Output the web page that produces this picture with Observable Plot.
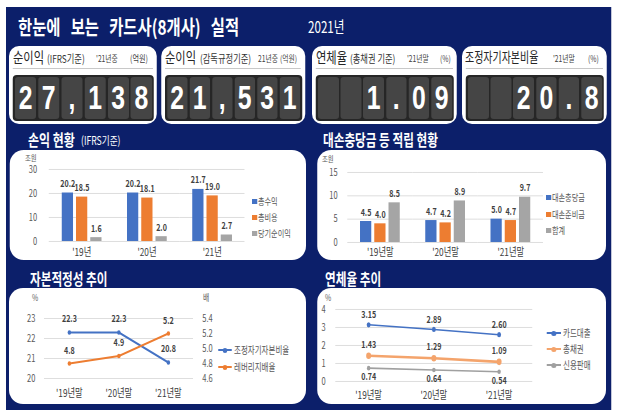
<!DOCTYPE html>
<html><head><meta charset="utf-8">
<script src="https://cdn.jsdelivr.net/npm/d3@7"></script>
<script src="https://cdn.jsdelivr.net/npm/@observablehq/plot@0.6"></script>
<style>
html,body{margin:0;padding:0;background:#fff;overflow:hidden;}
#root{position:relative;height:418px;transform-origin:0 0;font-family:"Noto Sans CJK KR","Noto Sans",sans-serif;}
#root svg{overflow:visible;}
</style></head><body><div id="root"></div>
<script>
// ---------------- data ----------------
const kpiNames   = ["순이익", "순이익", "연체율", "조정자기자본비율"];
const kpiBases   = ["(IFRS기준)", "(감독규정기준)", "(총채권 기준)", ""];
const kpiPeriods = ["'21년중", "21년중", "'21년말", "'21년말"];
const kpiUnits   = ["(억원)", "(억원)", "(%)", "(%)"];
const kpiValues  = ["27,138", "21,531", "1.09", "20.8"];

const years1  = ["'19년", "'20년", "'21년"];
const series1 = ["총수익", "총비용", "당기순이익"];
const revenue   = [20.2, 20.2, 21.7];
const expense   = [18.5, 18.1, 19.0];
const netIncome = [1.6, 2.0, 2.7];
const ticks1 = [0, 10, 20, 30];

const years2  = ["'19년말", "'20년말", "'21년말"];
const series2 = ["대손충당금", "대손준비금", "합계"];
const allowance = [4.5, 4.7, 5.0];
const reserve   = [4.0, 4.2, 4.7];
const provTotal = [8.5, 8.9, 9.7];
const ticks2 = [0, 5, 10, 15];

const series3 = ["조정자기자본비율", "레버리지배율"];
const capitalRatio = [22.3, 22.3, 20.8];
const leverage     = [4.8, 4.9, 5.2];
const ticks3Left  = [20, 21, 22, 23];
const ticks3Right = [4.6, 4.8, 5.0, 5.2, 5.4];

const series4 = ["카드대출", "총채권", "신용판매"];
const cardLoan    = [3.15, 2.89, 2.60];
const totalDebt   = [1.43, 1.29, 1.09];
const creditSales = [0.74, 0.64, 0.54];
const ticks4 = [0, 1, 2, 3, 4];

const palette = ["#4472C4", "#ED7D31", "#A5A5A5"];
const palette4 = ["#4472C4", "#F4A46C", "#A0A0A0"];

// ---------------- layout helpers ----------------
const S = 0.75, X = v => v / S;
const FONT = '"Noto Sans CJK KR","Noto Sans",sans-serif';
const root = document.getElementById("root");
root.style.width = X(620) + "px";
root.style.transform = `scaleX(${S})`;

function box(x, y, w, h, css) {
  const d = document.createElement("div");
  d.style.cssText = `position:absolute;left:${X(x)}px;top:${y}px;width:${X(w)}px;height:${h}px;box-sizing:border-box;` + (css || "");
  root.appendChild(d); return d;
}
function txt(t, x, yc, fs, css) {
  const d = document.createElement("div");
  d.textContent = t;
  const lh = Math.round(fs * 1.2);
  d.style.cssText = `position:absolute;left:${X(x)}px;top:${yc - lh / 2}px;height:${lh}px;line-height:${lh}px;font-size:${fs}px;white-space:nowrap;` + (css || "");
  root.appendChild(d); return d;
}
const rad = r => `border-radius:${X(r)}px / ${r}px;`;
function place(svg, x, y) {
  const d = document.createElement("div");
  d.style.cssText = `position:absolute;left:${X(x)}px;top:${y}px;`;
  d.appendChild(svg); root.appendChild(d);
}

// background
box(6, 7, 605, 403, "background:#0c1f6a;");
txt("한눈에 보는 카드사(8개사) 실적", 18, 26, 20.5, "color:#fff;font-weight:bold;word-spacing:9px;");
txt("2021년", 308, 26, 15.5, "color:#fff;");

// KPI cards
const cards = [
  {x: 9,   w: 148, name: [4, 15], base: [38, 11], period: [87, 9], unit: [121, 9.5]},
  {x: 161, w: 144, name: [4, 15], base: [39, 11], period: [97, 9], unit: [119, 9]},
  {x: 312, w: 145, name: [4, 15], base: [38, 11], period: [95, 9], unit: [128, 9]},
  {x: 462, w: 145, name: [3, 13.3], base: null,  period: [91, 9], unit: [126, 9]}
];
cards.forEach((c, i) => {
  box(c.x, 46, c.w, 78, "background:#fff;" + rad(10));
  txt(kpiNames[i], c.x + c.name[0], 57, c.name[1], "color:#262626;");
  if (c.base) txt(kpiBases[i], c.x + c.base[0], 58, c.base[1], "color:#333;");
  txt(kpiPeriods[i], c.x + c.period[0], 58, c.period[1], "color:#404040;");
  txt(kpiUnits[i], c.x + c.unit[0], 58, c.unit[1], "color:#404040;");
  box(c.x + 4, 68, c.w - 8, 1, "background:#c8c8c8;");
  const p = box(c.x + 4, 75, c.w - 7, 46, `background:#262626;${rad(4)}display:flex;gap:${X(2)}px;padding:2px ${X(2)}px;`);
  const chars = kpiValues[i].padStart(6, " ").split("");
  chars.forEach(ch => {
    const cell = document.createElement("div");
    cell.textContent = ch;
    cell.style.cssText = `flex:1;background:#454545;${rad(3)}color:#fff;font-family:"Liberation Sans",Arial,sans-serif;font-weight:bold;font-size:33px;line-height:42px;text-align:center;`;
    p.appendChild(cell);
  });
});

// section titles
txt("손익 현황", 28, 139, 16, "color:#fff;font-weight:bold;");
txt("(IFRS기준)", 81, 140, 11.5, "color:#fff;");
txt("대손충당금 등 적립 현황", 323, 139, 15.5, "color:#fff;font-weight:bold;");
txt("자본적정성 추이", 30, 278, 15.5, "color:#fff;font-weight:bold;");
txt("연체율 추이", 325, 278, 15.5, "color:#fff;font-weight:bold;");

// panels
box(10, 150, 296, 110, "background:#fff;" + rad(14));
box(317, 150, 289, 110, "background:#fff;" + rad(14));
box(9, 288, 297, 116, "background:#fff;" + rad(14));
box(317, 288, 289, 116, "background:#fff;" + rad(14));

// units
const unitCss = "color:#595959;";
txt("조원", 25, 157, 8.5, unitCss);
txt("조원", 322, 158, 8.5, unitCss);
txt("%", 32, 297, 9, unitCss);
txt("배", 203, 297, 9, unitCss);
txt("%", 325, 297, 9, unitCss);

// ---------------- charts ----------------
const baseStyle = {fontFamily: FONT, fontSize: "10px", color: "#595959", background: "transparent", overflow: "visible"};

function barChart(cfg) {
  const rows = cfg.series.flatMap((s, i) => cfg.years.map((yr, j) => ({year: yr, series: s, value: cfg.values[i][j]})));
  return Plot.plot({
    width: X(cfg.w), height: cfg.h,
    marginLeft: X(cfg.ml), marginRight: X(cfg.mr), marginTop: cfg.mt, marginBottom: cfg.mb,
    style: baseStyle,
    fx: {domain: cfg.years, padding: 0, label: null},
    x: {domain: cfg.series, axis: null, paddingInner: 0.2, paddingOuter: 0.88, label: null},
    y: {domain: [0, d3.max(cfg.ticks)], label: null},
    color: {domain: cfg.series, range: palette},
    marks: [
      Plot.ruleY(cfg.ticks, {stroke: "#d9d9d9", strokeWidth: 1}),
      Plot.axisY(cfg.ticks, {tickSize: 0, tickPadding: X(cfg.ypad), label: null, fontSize: 10}),
      Plot.axisFx({anchor: "bottom", tickSize: 0, tickPadding: cfg.xpad, label: null, fontSize: 11, fill: "#404040"}),
      Plot.barY(rows, {fx: "year", x: "series", y: "value", fill: "series"}),
      Plot.text(rows, {fx: "year", x: "series", y: "value", text: d => d.value.toFixed(1), dy: -9, fontWeight: "bold", fill: "#404040", fontSize: 9.5})
    ]
  });
}

place(barChart({years: years1, series: series1, values: [revenue, expense, netIncome], ticks: ticks1,
  w: 296, h: 112, ml: 38, mr: 61, mt: 19, mb: 21, ypad: 12, xpad: 7}), 10, 150);
place(barChart({years: years2, series: series2, values: [allowance, reserve, provTotal], ticks: ticks2,
  w: 289, h: 112, ml: 30, mr: 63, mt: 22, mb: 20, ypad: 10, xpad: 6}), 317, 150);

// chart 3: dual axis
const toLeft = d3.scaleLinear([4.6, 5.4], [20, 23]);
const capRows = years2.map((yr, j) => ({year: yr, v: capitalRatio[j], raw: capitalRatio[j]}));
const levRows = years2.map((yr, j) => ({year: yr, v: toLeft(leverage[j]), raw: leverage[j]}));
place(Plot.plot({
  width: X(297), height: 116,
  marginLeft: X(35), marginRight: X(113), marginTop: 30, marginBottom: 26,
  style: baseStyle,
  x: {type: "point", domain: years2, padding: 0.5, label: null},
  y: {domain: [20, 23], label: null},
  marks: [
    Plot.ruleY(ticks3Left, {stroke: "#d9d9d9"}),
    Plot.axisX({tickSize: 0, tickPadding: 11, label: null, fontSize: 11, fill: "#404040"}),
    Plot.axisY(ticks3Left, {anchor: "left", tickSize: 0, tickPadding: X(9), label: null}),
    Plot.axisY(ticks3Right.map(toLeft), {anchor: "right", tickSize: 0, tickPadding: X(9), label: null, tickFormat: d => toLeft.invert(d).toFixed(1)}),
    Plot.line(capRows, {x: "year", y: "v", stroke: palette[0], strokeWidth: 2}),
    Plot.dot(capRows, {x: "year", y: "v", fill: palette[0], r: 2.3}),
    Plot.line(levRows, {x: "year", y: "v", stroke: palette[1], strokeWidth: 2}),
    Plot.dot(levRows, {x: "year", y: "v", fill: palette[1], r: 2.3}),
    Plot.text(capRows, {x: "year", y: "v", text: d => d.raw.toFixed(1), dy: -14, fontWeight: "bold", fill: "#404040", fontSize: 9.5}),
    Plot.text(levRows, {x: "year", y: "v", text: d => d.raw.toFixed(1), dy: -13, fontWeight: "bold", fill: "#404040", fontSize: 9.5})
  ]
}), 9, 288);

// chart 4
const rows4 = [cardLoan, totalDebt, creditSales].map((arr, i) => years2.map((yr, j) => ({year: yr, s: series4[i], v: arr[j]})));
const lw4 = [1.6, 2.6, 1.6], r4 = [2.6, 3.3, 2.3], dy4 = [-10, -11, 9];
const marks4 = [
  Plot.ruleY(ticks4, {stroke: "#d9d9d9"}),
  Plot.axisX({tickSize: 0, tickPadding: 10, label: null, fontSize: 11, fill: "#404040"}),
  Plot.axisY(ticks4, {tickSize: 0, tickPadding: X(10), label: null})
];
rows4.forEach((rows, i) => {
  marks4.push(Plot.line(rows, {x: "year", y: "v", stroke: palette4[i], strokeWidth: lw4[i]}));
  marks4.push(Plot.dot(rows, {x: "year", y: "v", fill: palette4[i], r: r4[i]}));
  marks4.push(Plot.text(rows, {x: "year", y: "v", text: d => d.v.toFixed(2), dy: dy4[i], fontWeight: "bold", fill: "#404040", fontSize: 9.5}));
});
place(Plot.plot({
  width: X(289), height: 116,
  marginLeft: X(18), marginRight: X(74), marginTop: 21, marginBottom: 23,
  style: baseStyle,
  x: {type: "point", domain: years2, padding: 0.5, label: null},
  y: {domain: [0, 4], label: null},
  marks: marks4
}), 317, 288);

// ---------------- legends ----------------
function squareLegend(names, cols, x, ys, fs) {
  names.forEach((n, i) => {
    box(x, ys[i] - 2.5, 5, 5, `background:${cols[i]};`);
    txt(n, x + 6, ys[i], fs, "color:#595959;");
  });
}
function lineLegend(names, cols, x, ys, fs, len) {
  names.forEach((n, i) => {
    box(x, ys[i] - 1, len, 2, `background:${cols[i]};`);
    box(x + len / 2 - 2.5, ys[i] - 2.5, 5, 5, `background:${cols[i]};border-radius:50%;`);
    txt(n, x + len + 2, ys[i], fs, "color:#595959;");
  });
}
squareLegend(series1, palette, 252, [201, 217, 233], 9.5);
squareLegend(series2, palette, 546, [197, 214, 230], 9.5);
lineLegend(series3, palette, 218, [350, 367], 10, 14);
lineLegend(series4, palette4, 547, [333, 349, 365], 10, 14);
</script></body></html>
